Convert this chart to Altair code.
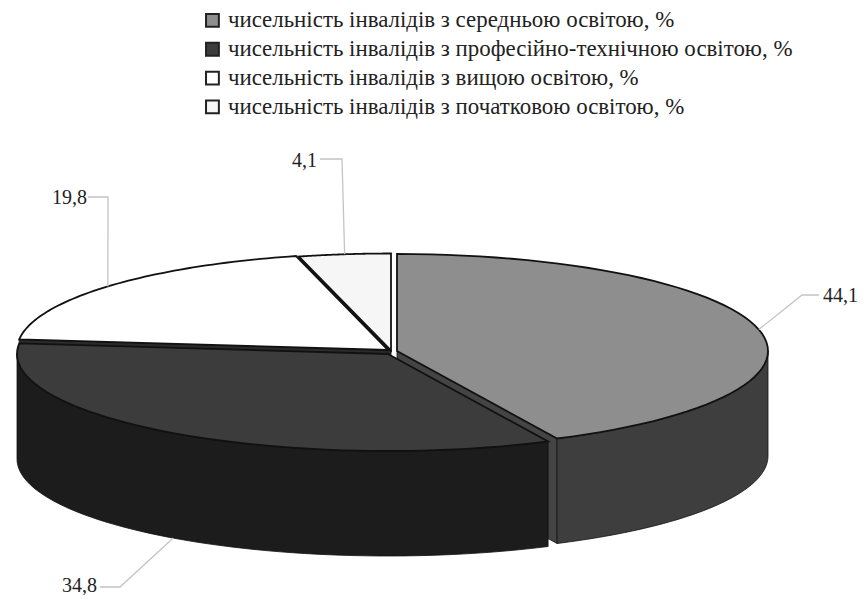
import math
import altair as alt

names = [
    "чисельність інвалідів з середньою освітою, %",
    "чисельність інвалідів з професійно-технічною освітою, %",
    "чисельність інвалідів з вищою освітою, %",
    "чисельність інвалідів з початковою освітою, %",
]
values = [44.1, 34.8, 19.8, 4.1]
labels = ["44,1", "34,8", "19,8", "4,1"]
top_colors = ["#8e8e8e", "#3c3c3c", "#ffffff", "#f6f6f6"]
wall_colors = ["#3e3e3e", "#1c1c1c", "#1c1c1c", "#1c1c1c"]

# pie geometry, in picture pixels
centres = [(397, 351), (388, 354), (388, 350), (391, 350.5)]
RX, RY, DEPTH = 371, 97, 105
# leader elbow, leader end, label position
leaders = [((802, 295), (819, 295)), ((120, 587), (100, 587)),
           ((108, 197), (88, 197)), ((342, 159), (320, 159))]
label_pos = [(823, 296, "left"), (97, 586, "right"), (87, 198, "right"), (317, 161, "right")]

total = sum(values)
starts, a = [], 0.0
for v in values:
    starts.append(a)
    a += v / total * 2 * math.pi


def rim(c, t, dy=0):
    return [c[0] + RX * math.sin(t), c[1] - RY * math.cos(t) + dy]


def arc(c, t0, t1, dy=0, n=60):
    return [rim(c, t0 + (t1 - t0) * k / n, dy) for k in range(n + 1)]


def poly(pts, name=None):
    return {"type": "Feature", "properties": {"name": name},
            "geometry": {"type": "Polygon", "coordinates": [pts + [pts[0]]]}}


proj = alt.Projection(type="identity", scale=1, translate=[-8, -8])


def shape(feature, **mark):
    return alt.Chart(alt.Data(values=[feature])).mark_geoshape(**mark).project(**proj.to_dict())


def face(c, t):
    apex = [c[0], c[1]]
    end = rim(c, t)
    return poly([apex, end, [end[0], end[1] + DEPTH], [apex[0], apex[1] + DEPTH]])


color = alt.Color(
    "properties.name:N",
    scale=alt.Scale(domain=names, range=top_colors),
    sort=None,
    legend=alt.Legend(
        title=None, orient="none", legendX=193, legendY=1, symbolType="square", symbolSize=165,
        symbolStrokeColor="#222222", symbolStrokeWidth=2, labelFont="Liberation Serif",
        labelFontSize=22.9, labelColor="#222222", labelLimit=700, rowPadding=4.8, labelOffset=4,
        symbolOpacity=1,
    ),
)

layers = []
for i in [3, 2, 0, 1]:
    c, t0 = centres[i], starts[i]
    t1 = t0 + values[i] / total * 2 * math.pi
    wall = {"stroke": "#111111", "strokeWidth": 0.8}
    if math.sin(t0) < -1e-6:
        layers.append(shape(face(c, t0), fill="#2a2a2a", **wall))
    if math.sin(t1) > 1e-6:
        layers.append(shape(face(c, t1), fill="#444444", **wall))
    front0, front1 = max(t0, math.pi / 2), min(t1, 3 * math.pi / 2)
    if front1 > front0:
        layers.append(shape(poly(arc(c, front0, front1) + arc(c, front1, front0, DEPTH)),
                            fill=wall_colors[i], **wall))
    layers.append(
        shape(poly([[c[0], c[1]]] + arc(c, t0, t1), names[i]), stroke="#111111", strokeWidth=1.8)
        .encode(color=color)
    )

for i in range(4):
    c, t0 = centres[i], starts[i]
    mid = t0 + values[i] / total * math.pi
    anchor = rim(c, mid, DEPTH if math.cos(mid) < 0 else 0)
    line = {"type": "Feature", "properties": {},
            "geometry": {"type": "LineString",
                         "coordinates": [anchor, list(leaders[i][0]), list(leaders[i][1])]}}
    layers.append(shape(line, filled=False, stroke="#c4c4c4", strokeWidth=1.3))
    x, y, al = label_pos[i]
    layers.append(
        alt.Chart(alt.Data(values=[{"t": labels[i]}]))
        .mark_text(font="Liberation Serif", fontSize=20, color="#222222", align=al, baseline="middle")
        .encode(text="t:N", x=alt.value(x - 8), y=alt.value(y - 8))
    )

chart = (
    alt.layer(*layers)
    .properties(width=852, height=587, padding=0, autosize=alt.AutoSizeParams(type="none"),
                background="#ffffff")
    .configure_view(stroke=None)
)
chart.save("out.html", embed_options={"renderer": "svg", "actions": False})
